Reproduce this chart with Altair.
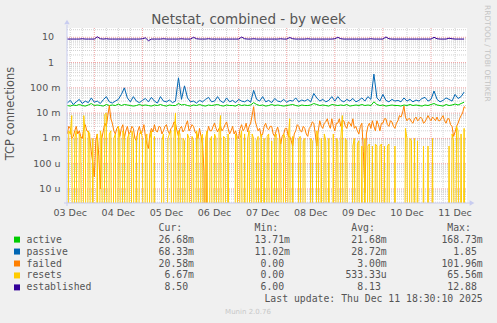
import altair as alt
import pandas as pd
import numpy as np

# ---------------- text ----------------
TITLE = "Netstat, combined - by week"
Y_TITLE = "TCP connections"
WATERMARK = "RRDTOOL / TOBI OETIKER"
FOOTER = "Munin 2.0.76"
LAST_UPDATE = "Last update: Thu Dec 11 18:30:10 2025"

SERIES = ["active", "passive", "failed", "resets", "established"]
COLORS = ["#00CC00", "#0066B3", "#FF8000", "#FFCC00", "#330099"]
CUR = ["26.68m", "68.33m", "20.58m", "6.67m", "8.50"]
MIN = ["13.71m", "11.02m", "0.00", "0.00", "6.00"]
AVG = ["21.68m", "28.72m", "3.00m", "533.33u", "8.13"]
MAX = ["168.73m", "1.85", "101.96m", "65.56m", "12.88"]
HEADERS = ["Cur:", "Min:", "Avg:", "Max:"]

X_LABELS = ["03 Dec", "04 Dec", "05 Dec", "06 Dec", "07 Dec", "08 Dec", "09 Dec", "10 Dec", "11 Dec"]
X_LABEL_DAYS = [3, 4, 5, 6, 7, 8, 9, 10, 11]
Y_TICK_LABELS = ["10", "1", "100 m", "10 m", "1 m", "100 u", "10 u"]
Y_TICK_VALUES = [10, 1, 0.1, 0.01, 0.001, 0.0001, 0.00001]

# ---------------- data ----------------
T_START = 3.4375          # day-of-December of first sample
T_STEP = 1.5 / 24.0       # days, active / passive / established
T_STEP_FINE = 0.75 / 24.0 # days, failed / resets

active_m = [
    20, 19, 21, 20, 22, 20, 19, 21, 24, 20,
    21, 20, 19, 22, 20, 21, 20, 23, 20, 22,
    21, 20, 19, 20, 22, 20, 21, 20, 19, 21,
    20, 22, 20, 19, 21, 20, 20, 24, 21, 22,
    20, 19, 21, 20, 22, 20, 19, 21, 20, 21,
    22, 20, 19, 21, 20, 20, 19, 22, 20, 21,
    20, 21, 26, 22, 20, 21, 19, 20, 22, 20,
    21, 20, 19, 20, 21, 22, 20, 19, 21, 20,
    20, 21, 24, 22, 20, 21, 20, 19, 22, 21,
    20, 21, 20, 22, 19, 20, 21, 20, 22, 20,
    21, 20, 28, 22, 20, 21, 19, 20, 21, 20,
    20, 19, 21, 20, 22, 20, 21, 20, 19, 21,
    20, 22, 24, 21, 20, 19, 22, 20, 21, 23,
    21, 24, 27,
]
passive_m = [
    25, 32, 22, 28, 35, 24, 30, 26, 40, 27,
    30, 24, 34, 45, 28, 25, 30, 35, 55, 100,
    40, 28, 45, 30, 26, 32, 38, 28, 42, 30,
    25, 45, 30, 28, 33, 26, 30, 250, 35, 120,
    40, 28, 30, 25, 32, 28, 35, 42, 28, 30,
    45, 30, 26, 40, 28, 32, 26, 35, 30, 28,
    33, 27, 80, 35, 30, 45, 28, 32, 26, 38,
    30, 28, 35, 27, 32, 30, 40, 28, 33, 30,
    35, 28, 60, 40, 30, 35, 28, 32, 45, 30,
    45, 32, 28, 35, 30, 38, 28, 32, 40, 30,
    45, 35, 350, 40, 30, 55, 32, 28, 35, 30,
    32, 28, 40, 30, 35, 28, 33, 30, 38, 42,
    30, 35, 75, 35, 28, 32, 40, 35, 30, 55,
    38, 45, 68,
]
failed_m = [
    1.5, 3, 2.5, 1, 1.2, 2, 3, 1.5, 2, 1.2, 1, 2.5, 3.5, 2, 1.8, 1, 0.3, 0.1, 0.03, 0.8,
    1.5, 0.2, 0.01, 1, 2, 4, 3, 8, 20, 6, 4, 2, 1.5, 2.5, 3, 1.2, 2.5, 3.5, 1, 2,
    3, 1.5, 1.8, 3, 2.5, 1, 0.8, 2, 3, 1.5, 2, 3.5, 1.2, 0.6, 0.4, 1.5, 2.5, 1.8, 3.5, 2,
    1.8, 3, 2.8, 1.5, 2, 3, 3.5, 2, 1.5, 2.5, 2.8, 4.5, 4, 2, 1.2, 2.5, 3, 1.8, 2.2, 3.5,
    5, 2, 2.5, 3.5, 3, 1.8, 1.5, 1, 2.5, 1.2, 0.6, 0.05, 0, 1.5, 3, 2, 2, 3, 4, 2.5,
    1.8, 2.5, 3, 2, 2.5, 3.5, 4.5, 2.5, 1.5, 2, 3, 1.5, 2, 1.2, 1, 2.5, 3.5, 2, 2.5, 4,
    1.8, 3, 4, 8, 18, 5, 3, 2, 2.5, 1.2, 1.5, 3, 4, 2.5, 2.2, 3, 3, 1.5, 1.2, 2,
    2.8, 1.5, 0.6, 1.2, 1.5, 2.5, 2.5, 1.2, 1.2, 0.8, 0.5, 1.5, 2, 3.5, 3, 2, 1.8, 3, 2.5, 1.5,
    1.2, 2.5, 3, 4.5, 4, 1.5, 0.5, 2, 5, 3, 2.5, 4, 4.5, 6, 3.5, 2.5, 6, 3, 2, 4,
    4, 6, 3, 5, 5, 3, 2.5, 4.5, 4, 3, 6, 2.5, 3, 2, 1.5, 3, 4, 0.3, 0.007, 1.5,
    3, 4, 2.5, 5, 3, 2, 5, 3.5, 2, 4, 4, 6, 6, 3.5, 3, 5, 4.5, 3, 2.5, 4,
    5, 8, 7, 10, 19, 7, 5, 6, 6, 4.5, 4, 6, 7, 5, 5.5, 7, 6, 4, 4.5, 6,
    8, 6, 5, 7, 6, 5, 7, 5, 5, 6.5, 8, 5, 4, 6, 6, 3.5, 3, 1.2, 1.8, 3,
    4, 6, 8, 10, 18, 16,
]
resets_m = [
    0, 2, 1.5, 8, 0, 1, 2, 0, 1.5, 1, 0, 8, 1.2, 0, 2, 1.5, 0, 1, 0, 0,
    1.5, 0, 2, 1, 0, 9, 10, 0, 1.5, 2, 0, 1, 1.5, 0, 3, 1, 0, 2, 1.2, 0,
    1, 1.5, 0, 2, 1, 0, 1.2, 0, 1.5, 2, 1, 0, 0.8, 1.5, 0, 1, 2, 0, 1.2, 0,
    0, 0, 0, 0.8, 1.5, 0, 0, 1, 1.5, 2, 0, 1, 10, 0, 2, 1.5, 0, 1, 0.8, 0,
    1.5, 1, 0, 1.2, 0.8, 0, 2, 1, 0, 1, 1.5, 0, 1, 2, 0, 0.8, 1.2, 0, 1.5, 1,
    0, 1.5, 8, 0, 1.2, 1, 0, 1.5, 0, 0, 0, 0, 1.5, 0.8, 0, 1, 2, 0, 1.5, 0,
    1, 2, 0, 1.5, 1, 0, 0.8, 1.2, 0, 1.5, 0, 1, 0, 1.2, 1.5, 0, 0.8, 0, 1, 1.5,
    0, 1, 0.8, 0, 1.5, 1, 0, 1, 6, 0, 1.2, 0, 0, 0, 1, 1.2, 0, 0.8, 1, 0,
    0, 0, 1, 0.8, 0, 0, 2, 1, 0, 1, 0, 1.5, 0.8, 0, 1, 0, 0, 1.5, 0, 1,
    0.8, 0, 1, 8, 0, 1, 0.8, 0, 0, 0, 0.5, 1, 0, 0.6, 0.8, 0, 0.5, 0, 1, 0,
    0.5, 0.6, 0, 0.5, 0, 0.6, 0.5, 0, 0.5, 0.6, 0, 0.5, 0, 0.5, 0.6, 0, 0, 0, 0.5, 0,
    0, 0, 0, 0, 0, 2.5, 1, 0, 1, 0.8, 0, 1, 0, 0.8, 0, 0, 0, 0.5, 0, 0,
    0.5, 0, 0, 1, 0, 0, 0, 0, 0, 0, 0, 0, 0, 0, 0.5, 0, 1.5, 0.8, 0, 3,
    2, 0, 1.5, 0, 2.5, 0,
]
established = [
    8.5, 8.5, 8.5, 8.5, 8.5, 8.75, 8.5, 8.5, 8.5, 8.5,
    10.5, 8.75, 8.5, 8.75, 8.5, 8.5, 8.5, 8.5, 8.5, 8.5,
    8.5, 8.5, 8.5, 8.5, 8.5, 8.75, 9.5, 7.3, 8.5, 8.5,
    8.5, 8.5, 8.75, 8.5, 8.5, 8.5, 8.5, 8.5, 8.75, 8.5,
    8.5, 8.5, 10, 8.75, 8.5, 8.5, 8.5, 8.75, 8.5, 8.5,
    8.5, 8.5, 8.5, 8.5, 8.5, 8.5, 8.5, 8.5, 10.2, 8.75,
    8.5, 8.5, 8.75, 8.5, 8.5, 8.5, 8.5, 8.5, 8.5, 8.5,
    8.5, 8.75, 8.5, 8.5, 9.8, 8.75, 8.5, 8.5, 8.5, 8.5,
    8.75, 8.5, 8.5, 8.5, 8.5, 8.5, 8.5, 8.5, 8.5, 8.75,
    10, 8.75, 8.5, 8.5, 8.5, 8.5, 8.5, 8.5, 8.5, 8.5,
    8.5, 8.75, 8.5, 8.5, 8.5, 8.5, 10.3, 8.75, 8.5, 8.5,
    8.5, 8.5, 8.5, 8.5, 8.5, 8.5, 8.5, 8.5, 8.5, 8.5,
    8.5, 8.5, 10, 8.75, 8.5, 8.5, 8.5, 9.2, 8.75, 8.5,
    8.5, 8.5, 8.5,
]

# ---------------- layout ----------------
W, H = 400, 175
PAD = {"left": 67, "top": 28, "right": 30, "bottom": 120}
X_DOMAIN = [3.4324, 11.748]
Y_DOMAIN = [2.79e-6, 23.3]
FONT = "DejaVu Sans"
MONO = "DejaVu Sans Mono"
TXT = "#555555"
GRID_MINOR = "#D2D2D2"
GRID_MAJOR = "#F0A4A4"
AXIS_COL = "#C8CCF0"

xs = alt.Scale(domain=X_DOMAIN, nice=False, zero=False)
ys = alt.Scale(type="log", domain=Y_DOMAIN, nice=False)
FLOOR = 1e-14  # zeros drawn below the log axis (clipped)


def series_df(vals, factor, step):
    v = np.array(vals, dtype=float) * factor
    v = np.where(v <= 0, FLOOR, v)
    t = T_START + step * np.arange(len(v))
    return pd.DataFrame({"t": t, "v": v})


layers = []

# grid
days = np.arange(3.0, 12.01, 0.25)
days = days[(days > X_DOMAIN[0]) & (days < X_DOMAIN[1])]
minor_v = [d for d in days if abs(d - round(d)) > 1e-6]
major_v = [d for d in days if abs(d - round(d)) <= 1e-6]
minor_h, major_h = [], []
for k in range(-6, 2):
    for m in range(1, 10):
        val = m * 10.0 ** k
        if Y_DOMAIN[0] < val < Y_DOMAIN[1]:
            (major_h if m == 1 else minor_h).append(val)

for vals, col in ((minor_v, GRID_MINOR), (major_v, GRID_MAJOR)):
    layers.append(
        alt.Chart(pd.DataFrame({"g": vals})).mark_rule(color=col, strokeDash=[1, 1], strokeWidth=1)
        .encode(x=alt.X("g:Q", scale=xs, axis=None), y=alt.value(0), y2=alt.value(H))
    )
for vals, col in ((minor_h, GRID_MINOR), (major_h, GRID_MAJOR)):
    layers.append(
        alt.Chart(pd.DataFrame({"g": vals})).mark_rule(color=col, strokeDash=[1, 1], strokeWidth=1)
        .encode(y=alt.Y("g:Q", scale=ys, axis=None), x=alt.value(0), x2=alt.value(W))
    )

# series
data = {
    "active": series_df(active_m, 1e-3, T_STEP),
    "passive": series_df(passive_m, 1e-3, T_STEP),
    "failed": series_df(failed_m, 1e-3, T_STEP_FINE),
    "resets": series_df(resets_m, 1e-3, T_STEP_FINE),
    "established": series_df(established, 1.0, T_STEP),
}
for name, col in zip(SERIES, COLORS):
    df = data[name]
    if name == "resets":
        layers.append(
            alt.Chart(df).mark_area(color=col, opacity=0.4, clip=True, interpolate="linear")
            .encode(x=alt.X("t:Q", scale=xs, axis=None), y=alt.Y("v:Q", scale=ys, axis=None),
                    y2=alt.value(H))
        )
    layers.append(
        alt.Chart(df).mark_line(color=col, strokeWidth=1, clip=True)
        .encode(x=alt.X("t:Q", scale=xs, axis=None), y=alt.Y("v:Q", scale=ys, axis=None))
    )

# axis lines and arrows
layers.append(alt.Chart(pd.DataFrame({"a": [0]})).mark_rule(color=AXIS_COL, strokeWidth=1)
              .encode(x=alt.value(0), y=alt.value(-3), y2=alt.value(H + 3)))
layers.append(alt.Chart(pd.DataFrame({"a": [0]})).mark_rule(color=AXIS_COL, strokeWidth=1)
              .encode(y=alt.value(H), x=alt.value(-3), x2=alt.value(W + 3)))
layers.append(alt.Chart(pd.DataFrame({"a": [0]})).mark_point(shape="triangle-up", filled=True, size=30,
                                                             color=AXIS_COL, opacity=1)
              .encode(x=alt.value(0), y=alt.value(-6)))
layers.append(alt.Chart(pd.DataFrame({"a": [0]})).mark_point(shape="triangle-right", filled=True, size=30,
                                                             color=AXIS_COL, opacity=1)
              .encode(x=alt.value(W + 5), y=alt.value(H)))

# y tick labels
yt = pd.DataFrame({"v": Y_TICK_VALUES, "lab": Y_TICK_LABELS})
yt["px"] = [-13.0 if " " not in s else -6.5 for s in Y_TICK_LABELS]
layers.append(
    alt.Chart(yt).mark_text(align="right", baseline="middle", font=FONT, fontSize=9.5, color=TXT)
    .encode(y=alt.Y("v:Q", scale=ys, axis=None), x=alt.X("px:Q", scale=None), text="lab:N")
)
# x tick labels (at noon of each day)
xt = pd.DataFrame({"d": [d + 0.5 for d in X_LABEL_DAYS], "lab": X_LABELS})
layers.append(
    alt.Chart(xt).mark_text(align="center", baseline="middle", font=FONT, fontSize=9.5, color=TXT)
    .encode(x=alt.X("d:Q", scale=xs, axis=None), y=alt.value(H + 9.7), text="lab:N")
)


def fixed_text(txt, x, y, **kw):
    return alt.Chart(pd.DataFrame({"s": [txt]})).mark_text(**kw).encode(
        x=alt.value(x), y=alt.value(y), text="s:N")


layers.append(fixed_text(TITLE, 181.5, -4.5, align="center", baseline="alphabetic",
                         font=FONT, fontSize=13.5, color=TXT))
layers.append(fixed_text(Y_TITLE, -56.3, 85.5, align="center", baseline="middle", angle=270,
                         font=FONT, fontSize=11.4, color=TXT))
layers.append(fixed_text(WATERMARK, 420.3, 25.4, align="center", baseline="middle", angle=90,
                         font=FONT, fontSize=7.5, color="#C4C4C4"))
layers.append(fixed_text(FOOTER, 181, 283.7, align="center", baseline="middle",
                         font=FONT, fontSize=7, color="#C8C8C8"))

# legend table
CW = 5.9
ROW0 = 239.6 - 28
ROWSTEP = 11.95
HEAD_Y = 227.5 - 28
COL_RIGHT = [194 - 67, 290 - 67, 386.7 - 67, 482.7 - 67]

leg = pd.DataFrame({"name": SERIES, "col": COLORS})
leg["y"] = ROW0 + ROWSTEP * np.arange(len(SERIES))
leg["sx"] = 17 - 67
leg["lx"] = 26.5 - 67
layers.append(
    alt.Chart(leg).mark_square(size=36, opacity=1)
    .encode(x=alt.X("sx:Q", scale=None), y=alt.Y("y:Q", scale=None), color=alt.Color("col:N", scale=None))
)
layers.append(
    alt.Chart(leg).mark_text(align="left", baseline="middle", font=MONO, fontSize=9.8, color=TXT)
    .encode(x=alt.X("lx:Q", scale=None), y=alt.Y("y:Q", scale=None), text="name:N")
)
for col_vals, right in zip((CUR, MIN, AVG, MAX), COL_RIGHT):
    cdf = pd.DataFrame({"s": col_vals, "y": leg["y"]})
    cdf["x"] = [right - (0 if s[-1].isalpha() else CW) for s in col_vals]
    layers.append(
        alt.Chart(cdf).mark_text(align="right", baseline="middle", font=MONO, fontSize=9.8, color=TXT)
        .encode(x=alt.X("x:Q", scale=None), y=alt.Y("y:Q", scale=None), text="s:N")
    )
hdf = pd.DataFrame({"s": HEADERS, "x": [r - 6 * CW for r in COL_RIGHT], "y": [HEAD_Y] * 4})
layers.append(
    alt.Chart(hdf).mark_text(align="left", baseline="middle", font=MONO, fontSize=9.8, color=TXT)
    .encode(x=alt.X("x:Q", scale=None), y=alt.Y("y:Q", scale=None), text="s:N")
)
layers.append(fixed_text(LAST_UPDATE, COL_RIGHT[3], ROW0 + ROWSTEP * 5, align="right", baseline="middle",
                         font=MONO, fontSize=9.8, color=TXT))

chart = (
    alt.layer(*layers)
    .properties(width=W, height=H, padding=PAD, autosize=alt.AutoSizeParams(type="none"),
                background="#F0F0F0")
    .configure_view(stroke=None, fill="white")
)
chart.save("out.html", embed_options={"renderer": "svg", "actions": False})
